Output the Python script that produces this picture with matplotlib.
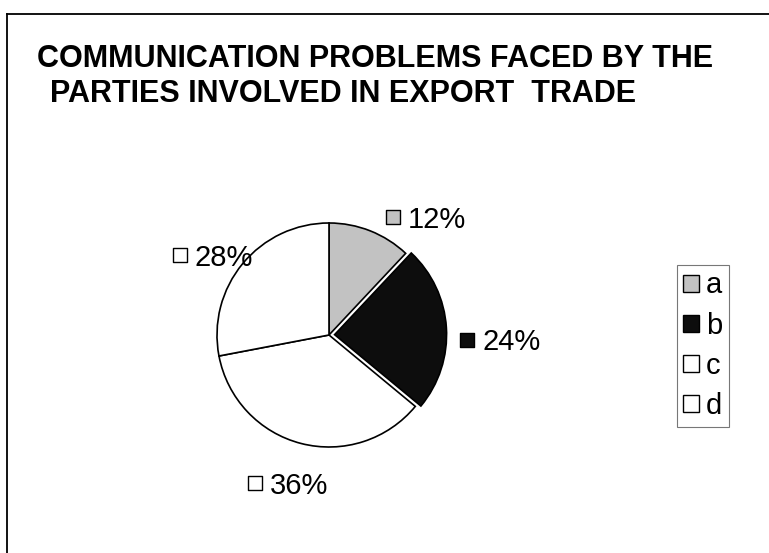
import matplotlib.pyplot as plt
from matplotlib.lines import Line2D
from matplotlib.patches import Patch

W, H = 769, 553

categories = ['a', 'b', 'c', 'd']
shares = [12, 24, 36, 28]
slice_colors = ['#c2c2c2', '#0d0d0d', 'white', 'white']
explode_frac = [0, 0.05, 0, 0]

title_lines = ['COMMUNICATION PROBLEMS FACED BY THE',
               'PARTIES INVOLVED IN EXPORT  TRADE']

# left edge of each label's key square and its vertical centre (px, from top)
label_pos = [(386, 217), (460, 340), (248, 483), (173, 255)]

plt.rcParams['font.family'] = ['Liberation Sans', 'DejaVu Sans']

fig = plt.figure(figsize=(W / 100, H / 100), dpi=100)
ax = fig.add_axes([0, 0, 1, 1])

cx, cy, r = 329, H - 335, 112
# pie() takes explode in data units, so scale by the radius
wedges, _ = ax.pie(shares, colors=slice_colors,
                   explode=[e * r for e in explode_frac],
                   startangle=90, counterclock=False,
                   center=(cx, cy), radius=r,
                   wedgeprops=dict(edgecolor='black', linewidth=1.2))
ax.set_xlim(0, W)
ax.set_ylim(0, H)
ax.axis('off')

# percentage labels with their legend keys
for val, col, (lx, ly) in zip(shares, slice_colors, label_pos):
    ax.scatter(lx + 7, H - ly, marker='s', s=110, facecolor=col,
               edgecolor='black', linewidth=1.0, zorder=3)
    ax.text(lx + 22, H - ly - 10.5, f'{val}%', ha='left', va='baseline',
            fontsize=21, zorder=4)

# title, second line indented a little
fig.text(37 / W, 1 - 67 / H, title_lines[0], fontsize=22, fontweight='bold',
         ha='left', va='baseline')
fig.text(50 / W, 1 - 102 / H, title_lines[1], fontsize=22, fontweight='bold',
         ha='left', va='baseline')

handles = [Patch(facecolor=c, edgecolor='black', linewidth=1.0)
           for c in slice_colors]
leg = ax.legend(handles, categories, loc='upper left',
                bbox_to_anchor=(677 / W, 1 - 265 / H),
                bbox_transform=fig.transFigure,
                fontsize=21, frameon=True, fancybox=False,
                handlelength=0.52, handleheight=0.52, handletextpad=0.25,
                labelspacing=0.42, borderpad=0.22, borderaxespad=0)
leg.get_frame().set_edgecolor('#555555')
leg.get_frame().set_linewidth(0.8)

# chart area border (runs off the right and bottom edges)
fig.add_artist(Line2D([7 / W, 1], [1 - 14 / H, 1 - 14 / H],
                      transform=fig.transFigure, color='black', lw=1.3))
fig.add_artist(Line2D([7 / W, 7 / W], [1 - 14 / H, 0],
                      transform=fig.transFigure, color='black', lw=1.3))

fig.savefig('out.png', dpi=100, facecolor='white')
